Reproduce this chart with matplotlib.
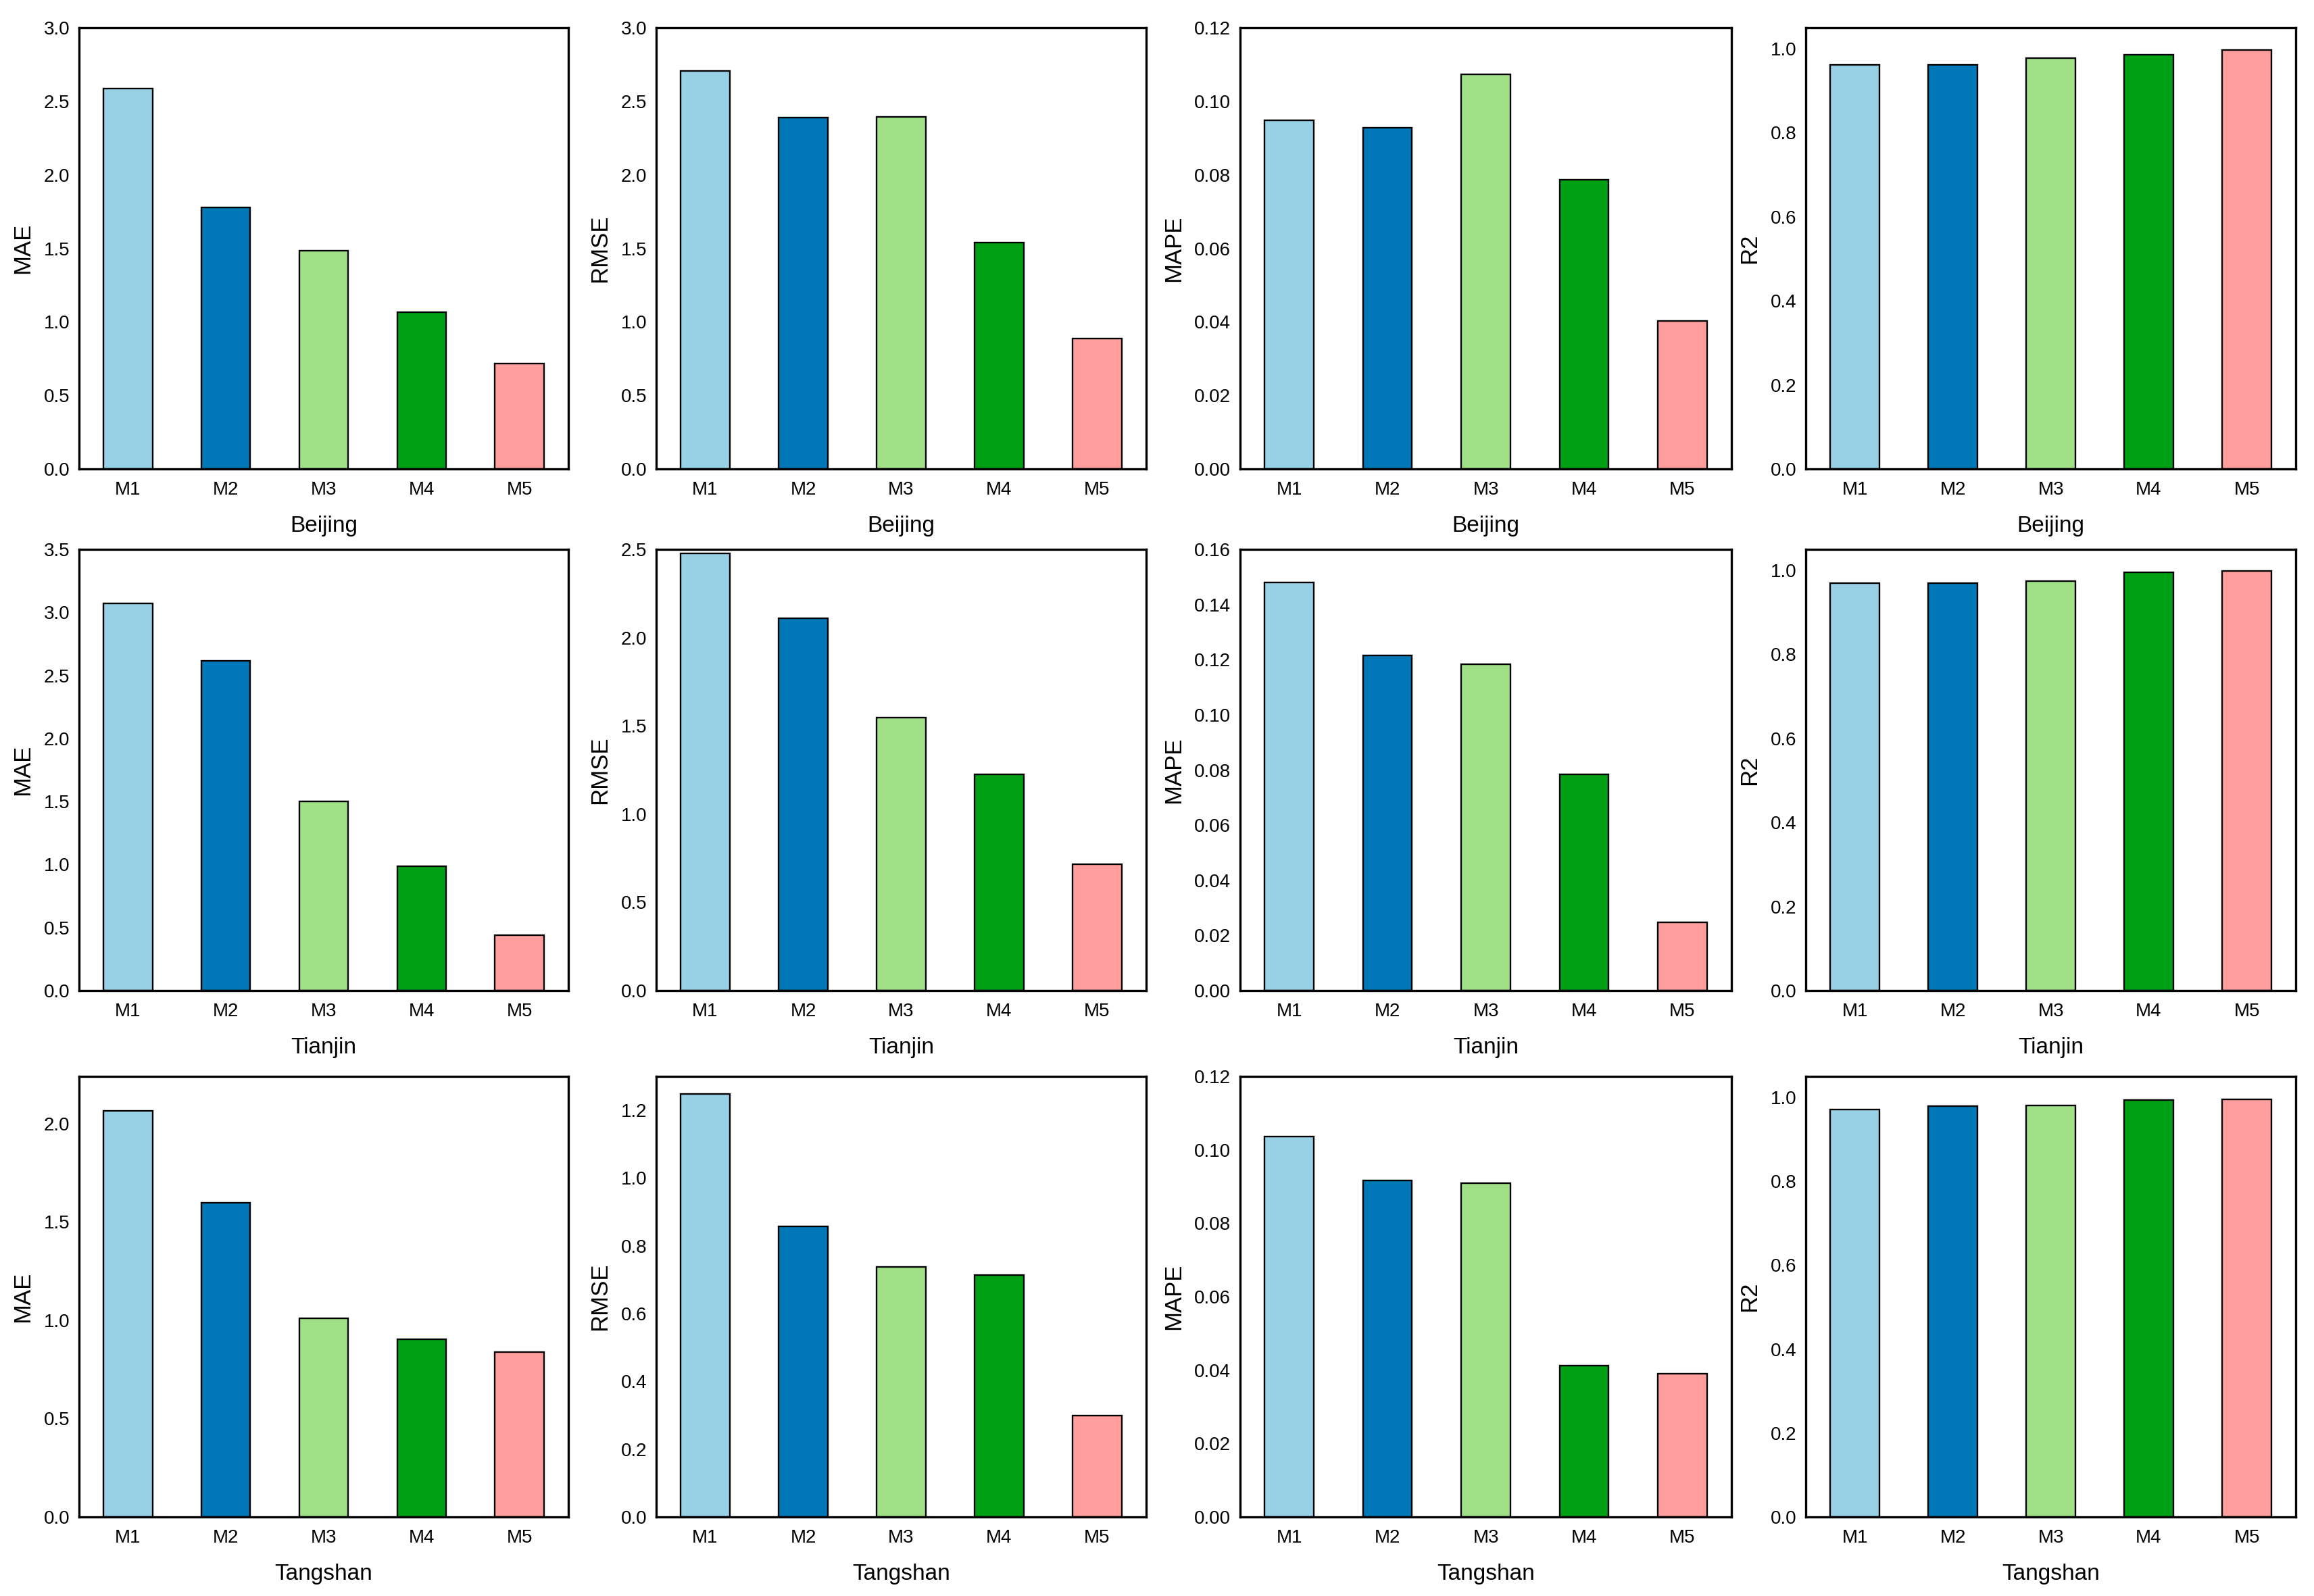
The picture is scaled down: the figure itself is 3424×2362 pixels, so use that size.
import matplotlib
matplotlib.use("Agg")
import matplotlib.pyplot as plt
from matplotlib.ticker import MultipleLocator, FormatStrFormatter

plt.rcParams['font.family'] = ['Liberation Sans', 'DejaVu Sans']

models = ['M1', 'M2', 'M3', 'M4', 'M5']
cities = ['Beijing', 'Tianjin', 'Tangshan']
metrics = ['MAE', 'RMSE', 'MAPE', 'R2']
colors = ['#98D0E6', '#0077B6', '#A0E087', '#00A014', '#FF9E9C']

# values
mae_beijing = [2.585, 1.776, 1.483, 1.064, 0.717]
rmse_beijing = [2.704, 2.390, 2.395, 1.537, 0.886]
mape_beijing = [0.0948, 0.0928, 0.1073, 0.0787, 0.0402]
r2_beijing = [0.961, 0.962, 0.978, 0.986, 0.997]

mae_tianjin = [3.070, 2.617, 1.500, 0.984, 0.440]
rmse_tianjin = [2.478, 2.109, 1.547, 1.225, 0.717]
mape_tianjin = [0.1479, 0.1216, 0.1184, 0.0784, 0.0248]
r2_tianjin = [0.970, 0.969, 0.974, 0.996, 0.999]

mae_tangshan = [2.065, 1.599, 1.009, 0.902, 0.837]
rmse_tangshan = [1.249, 0.858, 0.738, 0.713, 0.300]
mape_tangshan = [0.1036, 0.0916, 0.0909, 0.0412, 0.0391]
r2_tangshan = [0.971, 0.979, 0.981, 0.994, 0.996]

data = [
    [mae_beijing, rmse_beijing, mape_beijing, r2_beijing],
    [mae_tianjin, rmse_tianjin, mape_tianjin, r2_tianjin],
    [mae_tangshan, rmse_tangshan, mape_tangshan, r2_tangshan],
]

ylims = [
    [3.0, 3.0, 0.12, 1.05],
    [3.5, 2.5, 0.16, 1.05],
    [2.24, 1.3, 0.12, 1.05],
]
steps = [
    [0.5, 0.5, 0.02, 0.2],
    [0.5, 0.5, 0.02, 0.2],
    [0.5, 0.2, 0.02, 0.2],
]
fmts = ['%.1f', '%.1f', '%.2f', '%.1f']

W, H = 3424, 2362
fig = plt.figure(figsize=(W / 200, H / 200), dpi=200)

# axes boxes in pixels
col_left = [117, 971, 1835, 2672]
col_right = [841, 1696, 2562, 3397]
row_top = [41, 813, 1593]
row_bot = [694, 1466, 2245]

for r in range(3):
    for c in range(4):
        ax = fig.add_axes([col_left[c] / W, 1 - row_bot[r] / H,
                           (col_right[c] - col_left[c]) / W,
                           (row_bot[r] - row_top[r]) / H])
        ax.bar(range(len(models)), data[r][c], width=0.5, color=colors,
               edgecolor='black', linewidth=0.85)
        ax.set_xlim(-0.5, 4.5)
        ax.set_ylim(0, ylims[r][c])
        ax.set_xticks(range(len(models)))
        ax.set_xticklabels(models)
        ax.yaxis.set_major_locator(MultipleLocator(steps[r][c]))
        ax.yaxis.set_major_formatter(FormatStrFormatter(fmts[c]))
        ax.tick_params(axis='both', length=0, labelsize=10)
        ax.tick_params(axis='x', pad=6.5)
        ax.tick_params(axis='y', pad=5)
        for s in ax.spines.values():
            s.set_linewidth(1.2)
        ax.set_xlabel(cities[r], fontsize=12, labelpad=9)
        ax.set_ylabel(metrics[c], fontsize=12.5, labelpad=5)

fig.savefig('out.png', dpi=200)
